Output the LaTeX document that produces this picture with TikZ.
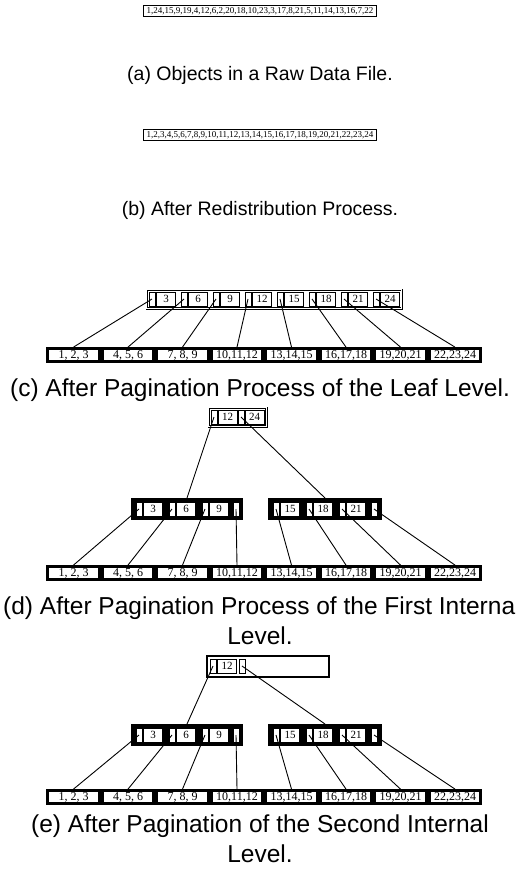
\documentclass[tikz,border=0pt]{standalone}
\usepackage{fontspec}
\setmainfont{Liberation Sans}
\newfontfamily\numfont{Liberation Serif}
\usetikzlibrary{fit}

\tikzset{
  rawlist/.style={draw, line width=0.8pt, inner xsep=3pt, inner ysep=2pt,
    font=\numfont\fontsize{9}{10}\selectfont},
  captext/.style={anchor=base, inner sep=0pt, font=\fontsize{24.5}{30}\selectfont},
  smallcap/.style={captext, font=\fontsize{19.5}{24}\selectfont},
  ptr/.style={draw, fill=white, line width=0.6pt, minimum width=6, minimum height=14, inner sep=0pt},
  key/.style={draw, fill=white, line width=0.6pt, minimum width=19, minimum height=14, inner sep=0pt,
    font=\numfont\fontsize{11}{12}\selectfont},
  leaf/.style={draw, fill=white, line width=2.8pt, minimum width=51.5, minimum height=13, inner sep=0pt,
    font=\numfont\fontsize{12}{12}\selectfont},
  thinframe/.style={draw, double, double distance=1pt, line width=0.7pt, inner sep=2pt},
  thickframe/.style={draw, fill=black, line width=2pt, minimum height=20, inner sep=0pt},
  openframe/.style={draw, fill=white, line width=2pt, inner sep=0pt},
  link/.style={line width=0.9pt}
}

\begin{document}
\begin{tikzpicture}[x=1pt, y=-1pt]
\useasboundingbox (0,0) rectangle (519,870);

% (a) raw data file
\node[rawlist] (raw) at (260,11) {1,24,15,9,19,4,12,6,2,20,18,10,23,3,17,8,21,5,11,14,13,16,7,22};
\node[smallcap] (capa) at (260,80) {(a) Objects in a Raw Data File.};

% (b) redistribution
\node[rawlist] (sorted) at (260,135) {1,2,3,4,5,6,7,8,9,10,11,12,13,14,15,16,17,18,19,20,21,22,23,24};
\node[smallcap] (capb) at (260,215) {(b) After Redistribution Process.};

% leaf pages, one row per stage
\foreach \r/\y in {c/355, d/573, e/797} {
  \foreach \i in {1,...,8} {
    \pgfmathtruncatemacro\ka{3*\i-2}
    \pgfmathtruncatemacro\kb{3*\i-1}
    \pgfmathtruncatemacro\kc{3*\i}
    \node[leaf] (leaf\r\i) at ({73.5+54.5*(\i-1)},\y)
      {\ifnum\i<4 \ka,~\kb,~\kc\else\ka,\kb,\kc\fi};
  }
}

% (c) leaf level index page
\foreach \i in {1,...,8} {
  \pgfmathtruncatemacro\k{3*\i}
  \node[ptr] (pc\i) at ({152+32*(\i-1)},299) {};
  \node[key] (kc\i) at ({166+32*(\i-1)},299) {\k};
}
\node[thinframe, fit=(pc1)(kc8)] (nodec) {};
\foreach \i in {1,...,8}
  \draw[link] (pc\i.center) -- (leafc\i.north);
\node[captext] (capc) at (260,396) {(c) After Pagination Process of the Leaf Level.};

% (d) root of the first internal level
\node[ptr] (rtd1) at (214,417) {};
\node[key] (rkd1) at (227.5,417) {12};
\node[ptr] (rtd2) at (241,417) {};
\node[key] (rkd2) at (254.5,417) {24};
\node[thinframe, fit=(rtd1)(rkd2)] (rootd) {};

% (e) root of the second internal level
\node[openframe, minimum width=122, minimum height=21] (roote) at (268,666) {};
\node[ptr] (rte1) at (213,666) {};
\node[key] (rke1) at (227,666) {12};
\node[ptr] (rte2) at (242,666) {};

% internal pages of (d) and (e)
\foreach \r/\y in {d/509, e/735} {
  \node[thickframe, minimum width=110] (il\r) at (187,\y) {};
  \node[thickframe, minimum width=112] (ir\r) at (325,\y) {};
  \foreach \i in {1,...,3} {
    \pgfmathtruncatemacro\k{3*\i}
    \pgfmathtruncatemacro\kk{3*\i+12}
    \node[ptr] (pl\r\i) at ({139+33*(\i-1)},\y) {};
    \node[key] (kl\r\i) at ({153+33*(\i-1)},\y) {\k};
    \node[ptr] (pr\r\i) at ({276+33*(\i-1)},\y) {};
    \node[key] (kr\r\i) at ({290+33*(\i-1)},\y) {\kk};
  }
  \node[ptr] (pl\r4) at (236,\y) {};
  \node[ptr] (pr\r4) at (374,\y) {};
  \foreach \i in {1,...,4} {
    \pgfmathtruncatemacro\j{\i+4}
    \draw[link] (pl\r\i.center) -- (leaf\r\i.north);
    \draw[link] (pr\r\i.center) -- (leaf\r\j.north);
  }
}
\draw[link] (rtd1.center) -- (ild.north);
\draw[link] (rtd2.center) -- (ird.north);
\draw[link] (rte1.center) -- (ile.north);
\draw[link] (rte2.center) -- (ire.north);

\node[captext, anchor=base west] (capd) at (3,614) {(d) After Pagination Process of the First Interna};
\node[captext] (capd2) at (260,644) {Level.};
\node[captext] (cape) at (260,832) {(e) After Pagination of the Second Internal};
\node[captext] (cape2) at (260,862) {Level.};
\end{tikzpicture}
\end{document}
